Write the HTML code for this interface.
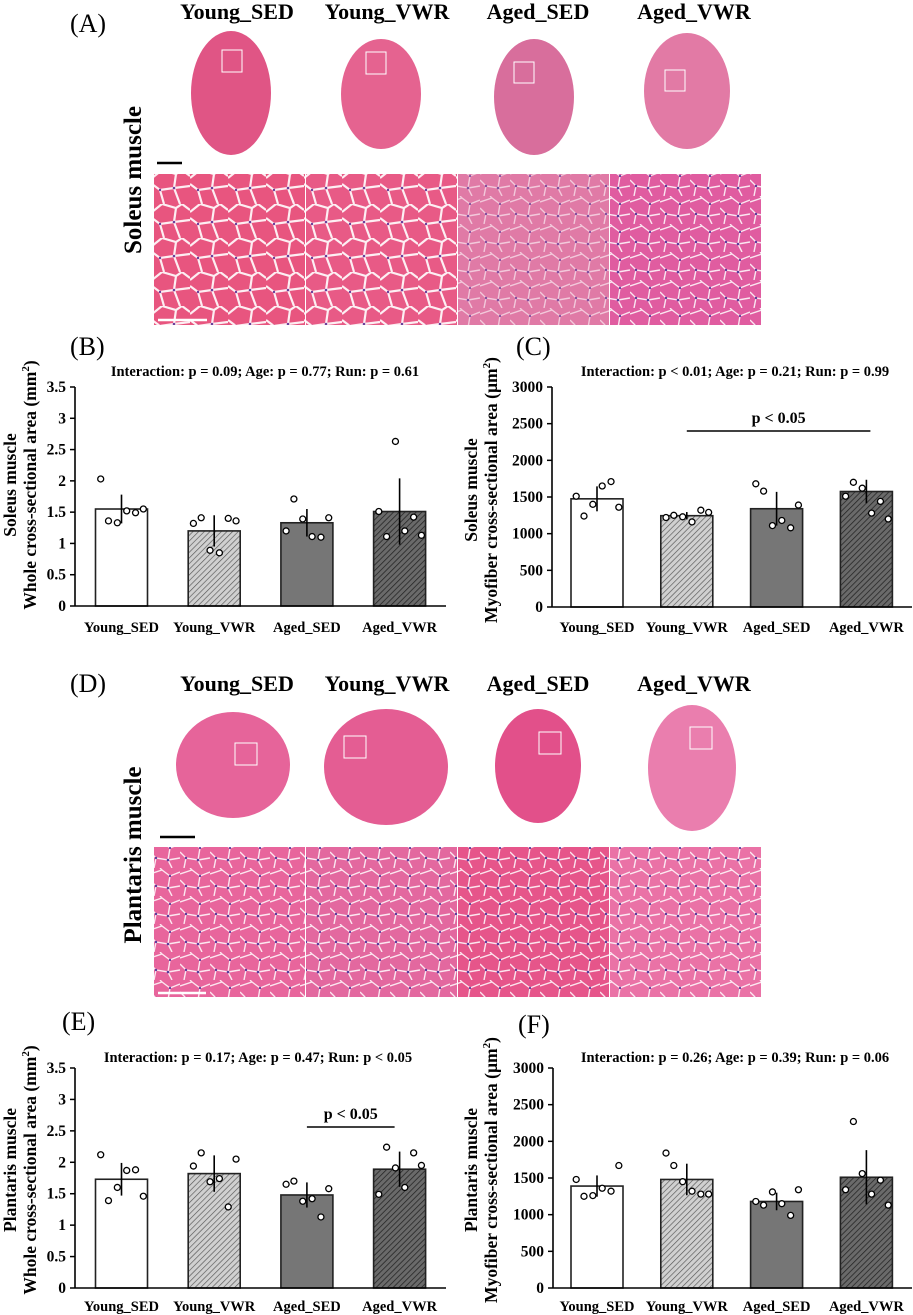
<!DOCTYPE html>
<html><head><meta charset="utf-8"><style>
html,body{margin:0;padding:0;background:#fff}
svg{display:block}
text{font-family:"Liberation Serif",serif;font-weight:bold;fill:#000}
</style></head><body>
<svg id="fig" width="913" height="1315" viewBox="0 0 913 1315" xmlns="http://www.w3.org/2000/svg">
<defs>
<pattern id="cellsA" width="38" height="34" patternUnits="userSpaceOnUse">
<path d="M0 8 L10 0 M10 0 L24 4 L30 0 M24 4 L22 18 L8 20 L0 14 M22 18 L38 16 M30 0 L38 6 M8 20 L12 34 M22 18 L28 34" stroke="#fff" stroke-width="2.2" fill="none" opacity="0.9"/>
<circle cx="22" cy="18" r="1.3" fill="#6a3d9a"/><circle cx="8" cy="20" r="1.2" fill="#6a3d9a"/>
</pattern>
<pattern id="cellsB" width="30" height="28" patternUnits="userSpaceOnUse">
<path d="M0 6 L12 2 L20 8 L30 4 M12 2 L10 0 M20 8 L18 20 L6 18 L0 12 M18 20 L30 18 M6 18 L4 28 M18 20 L22 28" stroke="#fff" stroke-width="1.4" fill="none" opacity="0.85"/>
<circle cx="18" cy="20" r="1.3" fill="#5b3b9c"/><circle cx="6" cy="18" r="1.2" fill="#5b3b9c"/><circle cx="20" cy="8" r="1.1" fill="#5b3b9c"/>
</pattern>
<pattern id="hatchLight" width="4" height="4" patternUnits="userSpaceOnUse" patternTransform="rotate(45)">
<rect width="4" height="4" fill="#d0d0d0"/><line x1="0" y1="0" x2="0" y2="4" stroke="#555" stroke-width="1.3"/>
</pattern>
<pattern id="hatchDark" width="4" height="4" patternUnits="userSpaceOnUse" patternTransform="rotate(45)">
<rect width="4" height="4" fill="#6a6a6a"/><line x1="0" y1="0" x2="0" y2="4" stroke="#222" stroke-width="1.5"/>
</pattern>
</defs>

<!-- Panel A -->
<text x="70" y="32" font-size="26" style="font-weight:normal">(A)</text>
<g font-size="22" text-anchor="middle">
<text x="237" y="19">Young_SED</text>
<text x="387" y="19">Young_VWR</text>
<text x="538" y="19">Aged_SED</text>
<text x="694" y="19">Aged_VWR</text>
</g>
<g>
<ellipse cx="231" cy="93" rx="40" ry="62" fill="#e05585"/>
<rect x="222" y="50" width="20" height="22" fill="none" stroke="#fff" stroke-width="1"/>
<ellipse cx="381" cy="94" rx="40" ry="55" fill="#e56390"/>
<rect x="366" y="52" width="20" height="22" fill="none" stroke="#fff" stroke-width="1"/>
<ellipse cx="534" cy="97" rx="40" ry="58" fill="#d86e9c"/>
<rect x="514" y="62" width="20" height="21" fill="none" stroke="#fff" stroke-width="1"/>
<ellipse cx="687" cy="91" rx="43" ry="58" fill="#e27aa5"/>
<rect x="665" y="70" width="20" height="21" fill="none" stroke="#fff" stroke-width="1"/>
</g>
<line x1="157" y1="163" x2="182" y2="163" stroke="#000" stroke-width="2.5"/>
<text transform="translate(141,180) rotate(-90)" font-size="25" text-anchor="middle">Soleus muscle</text>
<g>
<rect x="154" y="174" width="151" height="151" fill="#e8557f"/><rect x="154" y="174" width="151" height="151" fill="url(#cellsA)"/>
<rect x="306" y="174" width="151" height="151" fill="#e85a86"/><rect x="306" y="174" width="151" height="151" fill="url(#cellsA)"/>
<rect x="458" y="174" width="151" height="151" fill="#e07aa6"/><rect x="458" y="174" width="151" height="151" fill="url(#cellsB)" opacity="0.7"/>
<rect x="610" y="174" width="151" height="151" fill="#e05ca0"/><rect x="610" y="174" width="151" height="151" fill="url(#cellsB)"/>
<line x1="158" y1="320" x2="207" y2="320" stroke="#fff" stroke-width="2.5"/>
</g>

<!-- Panel D -->
<text x="70" y="692" font-size="26" style="font-weight:normal">(D)</text>
<g font-size="22" text-anchor="middle">
<text x="237" y="691">Young_SED</text>
<text x="387" y="691">Young_VWR</text>
<text x="538" y="691">Aged_SED</text>
<text x="694" y="691">Aged_VWR</text>
</g>
<g>
<ellipse cx="233" cy="765" rx="57" ry="53" fill="#e6649a"/>
<rect x="235" y="743" width="22" height="22" fill="none" stroke="#fff" stroke-width="1"/>
<ellipse cx="386" cy="767" rx="62" ry="58" fill="#e45d93"/>
<rect x="344" y="736" width="22" height="22" fill="none" stroke="#fff" stroke-width="1"/>
<ellipse cx="538" cy="766" rx="43" ry="57" fill="#e2508a"/>
<rect x="539" y="732" width="22" height="22" fill="none" stroke="#fff" stroke-width="1"/>
<ellipse cx="692" cy="768" rx="44" ry="63" fill="#ea7eae"/>
<rect x="690" y="727" width="22" height="22" fill="none" stroke="#fff" stroke-width="1"/>
</g>
<line x1="160" y1="837" x2="195" y2="837" stroke="#000" stroke-width="2.5"/>
<text transform="translate(141,855) rotate(-90)" font-size="25" text-anchor="middle">Plantaris muscle</text>
<g>
<rect x="154" y="847" width="151" height="150" fill="#e8659c"/><rect x="154" y="847" width="151" height="150" fill="url(#cellsB)"/>
<rect x="306" y="847" width="151" height="150" fill="#e3689f"/><rect x="306" y="847" width="151" height="150" fill="url(#cellsB)"/>
<rect x="458" y="847" width="151" height="150" fill="#e6558a"/><rect x="458" y="847" width="151" height="150" fill="url(#cellsB)"/>
<rect x="610" y="847" width="151" height="150" fill="#ea72a6"/><rect x="610" y="847" width="151" height="150" fill="url(#cellsB)"/>
<line x1="158" y1="993" x2="206" y2="993" stroke="#fff" stroke-width="2.5"/>
</g>
<g id="charts"></g>
</svg>
<script>
const categories = ["Young_SED","Young_VWR","Aged_SED","Aged_VWR"];
// Chart B
const bMeans = [1.55,1.20,1.33,1.51];
const bErr = [0.23,0.25,0.22,0.53];
const bPoints = [[2.03,1.36,1.33,1.52,1.49,1.55],[1.32,1.41,0.89,0.85,1.40,1.36],[1.20,1.71,1.39,1.11,1.10,1.41],[1.51,1.11,2.63,1.20,1.42,1.13]];
const bTicks = ["0","0.5","1","1.5","2","2.5","3","3.5"];
// Chart C
const cMeans = [1475,1245,1340,1575];
const cErr = [170,50,230,160];
const cPoints = [[1510,1240,1400,1650,1710,1360],[1220,1250,1230,1160,1320,1290],[1680,1580,1110,1180,1080,1390],[1510,1700,1620,1280,1440,1200]];
const cTicks = ["0","500","1000","1500","2000","2500","3000"];
// Chart E
const eMeans = [1.73,1.82,1.48,1.89];
const eErr = [0.26,0.29,0.20,0.28];
const ePoints = [[2.12,1.39,1.60,1.87,1.88,1.46],[1.94,2.15,1.69,1.74,1.29,2.05],[1.65,1.70,1.38,1.42,1.13,1.58],[1.49,2.24,1.91,1.60,2.15,1.95]];
const eTicks = ["0","0.5","1","1.5","2","2.5","3","3.5"];
// Chart F
const fMeans = [1390,1480,1180,1510];
const fErr = [145,215,120,370];
const fPoints = [[1480,1250,1260,1360,1320,1670],[1840,1670,1450,1320,1280,1280],[1180,1130,1310,1150,990,1340],[1340,2270,1560,1280,1470,1130]];
const fTicks = ["0","500","1000","1500","2000","2500","3000"];

const NS="http://www.w3.org/2000/svg";
const root=document.getElementById('charts');
function mk(tag,attrs,parent){const e=document.createElementNS(NS,tag);for(const k in attrs)e.setAttribute(k,attrs[k]);(parent||root).appendChild(e);return e;}
const fills=["#fff","url(#hatchLight)","#767676","url(#hatchDark)"];
const jitter=[-0.4,-0.25,-0.08,0.1,0.27,0.42];

function chart(o){
  const g=mk('g',{});
  
  
  const y=v=>o.y0-(v/o.max)*(o.y0-o.yTop);
  const bw=52;
  const cx=i=>o.c0+i*o.step;
  const pl=mk('text',{x:o.lx,y:o.ly,'font-size':26,style:'font-weight:normal'},g);pl.textContent=o.panel;
  
  
  const t=mk('text',{x:o.tx,y:o.ty,'font-size':14.5,'text-anchor':'middle'},g);t.textContent=o.title;
  
  
  o.ticks.forEach(tl=>{const v=parseFloat(tl);const yy=y(v);
    mk('line',{x1:o.ax-5,x2:o.ax,y1:yy,y2:yy,stroke:'#000','stroke-width':1.5},g);
    const tt=mk('text',{x:o.ax-9,y:yy+5,'font-size':15.5,'text-anchor':'end'},g);tt.textContent=tl;
    
    
  });
  o.means.forEach((m,i)=>{
    const b=mk('rect',{x:cx(i)-bw/2,y:y(m),width:bw,height:o.y0-y(m),fill:fills[i],stroke:'#222','stroke-width':1.6},g);
    
    
    const e=mk('line',{x1:cx(i),x2:cx(i),y1:y(m-o.err[i]),y2:y(m+o.err[i]),stroke:'#000','stroke-width':1.6},g);
    
    
    o.pts[i].forEach((p,j)=>{
      const c=mk('circle',{cx:cx(i)+jitter[j]*bw,cy:y(p),r:3,fill:'#fff',stroke:'#000','stroke-width':1.3},g);
      
      
    });
    const cl=mk('text',{x:cx(i),y:o.catY,'font-size':14.5,'text-anchor':'middle'},g);cl.textContent=categories[i];
    
    
  });
  const ya=mk('line',{x1:o.ax,x2:o.ax,y1:o.yTop,y2:o.y0,stroke:'#000','stroke-width':1.6},g);
  
  
  const xa=mk('line',{x1:o.ax,x2:o.axEnd,y1:o.y0,y2:o.y0,stroke:'#000','stroke-width':1.6},g);
  
  
  const yl=mk('text',{transform:`translate(${o.ylx},${o.yly}) rotate(-90)`,'font-size':17.5,'text-anchor':'middle'},g);
  const s1=mk('tspan',{x:0,dy:0},yl);s1.textContent=o.yl1;
  const s2=mk('tspan',{x:0,dy:20},yl);s2.textContent=o.yl2;
  const s3=mk('tspan',{dy:-7,'font-size':11},yl);s3.textContent='2';
  const s4=mk('tspan',{dy:7},yl);s4.textContent=')';
  
  
  if(o.sig){
    const sl=mk('line',{x1:cx(o.sig[0]),x2:cx(o.sig[1])+o.sigExt,y1:o.sigY,y2:o.sigY,stroke:'#000','stroke-width':1.5},g);
    
    
    const st=mk('text',{x:(cx(o.sig[0])+cx(o.sig[1])+o.sigExt)/2,y:o.sigY-8,'font-size':16,'text-anchor':'middle'},g);st.textContent='p < 0.05';
    
    
  }
}
chart({name:'chart-b',panel:'(B)',lx:70,ly:355,title:'Interaction: p = 0.09; Age: p = 0.77; Run: p = 0.61',tx:265,ty:376,
  means:bMeans,err:bErr,pts:bPoints,ticks:bTicks,max:3.5,y0:606,yTop:387,ax:75,axEnd:446,c0:121.5,step:92.7,catY:632,
  ylx:16,yly:485,yl1:'Soleus muscle',yl2:'Whole cross-sectional area (mm'});
chart({name:'chart-c',panel:'(C)',lx:516,ly:355,title:'Interaction: p < 0.01; Age: p = 0.21; Run: p = 0.99',tx:735,ty:376,
  means:cMeans,err:cErr,pts:cPoints,ticks:cTicks,max:3000,y0:607,yTop:387,ax:552,axEnd:912,c0:597,step:89.8,catY:632,
  ylx:477,yly:490,yl1:'Soleus muscle',yl2:'Myofiber cross-sectional area (\u00b5m',sig:[1,3],sigExt:4,sigY:431});
chart({name:'chart-e',panel:'(E)',lx:62,ly:1030,title:'Interaction: p = 0.17; Age: p = 0.47; Run: p < 0.05',tx:258,ty:1062,
  means:eMeans,err:eErr,pts:ePoints,ticks:eTicks,max:3.5,y0:1288,yTop:1068,ax:75,axEnd:446,c0:121.5,step:92.7,catY:1311,
  ylx:16,yly:1170,yl1:'Plantaris muscle',yl2:'Whole cross-sectional area (mm',sig:[2,3],sigExt:-5,sigY:1127});
chart({name:'chart-f',panel:'(F)',lx:518,ly:1033,title:'Interaction: p = 0.26; Age: p = 0.39; Run: p = 0.06',tx:735,ty:1062,
  means:fMeans,err:fErr,pts:fPoints,ticks:fTicks,max:3000,y0:1288,yTop:1068,ax:553,axEnd:912,c0:597,step:89.8,catY:1311,
  ylx:477,yly:1170,yl1:'Plantaris muscle',yl2:'Myofiber cross-sectional area (\u00b5m'});
</script>
</body></html>
